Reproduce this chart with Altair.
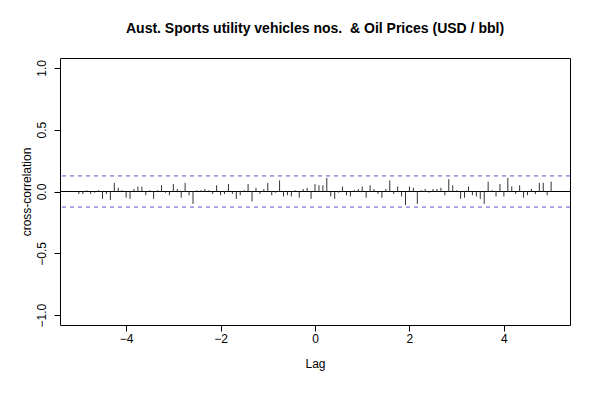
import altair as alt
import pandas as pd

lags = [round(-5 + i / 12, 4) for i in range(121)]
acf = [-0.02, -0.02, 0.01, -0.02, -0.01, 0.01, -0.06, -0.02, -0.07, 0.07, 0.03, 0.01,
       -0.05, -0.06, 0.02, 0.04, 0.04, -0.03, 0.01, -0.06, 0.01, 0.05, -0.01, -0.03,
       0.06, 0.02, -0.05, 0.07, -0.03, -0.10, 0.01, 0.01, 0.02, 0.01, -0.02, 0.05,
       -0.03, -0.02, 0.06, -0.02, -0.06, -0.03, 0.01, 0.06, -0.08, 0.03, -0.02, 0.02,
       0.07, -0.03, -0.01, 0.09, -0.04, -0.03, -0.04, 0.01, -0.05, 0.02, 0.03, -0.06,
       0.06, 0.05, 0.05, 0.11, -0.04, -0.06, -0.01, 0.04, -0.03, -0.04, 0.01, 0.02,
       0.04, -0.05, 0.05, 0.02, -0.02, -0.05, 0.02, 0.09, -0.02, 0.04, -0.04, -0.11,
       0.04, 0.03, -0.10, 0.01, 0.02, -0.01, 0.02, 0.02, 0.03, -0.03, 0.10, 0.05, 0.01,
       -0.06, -0.05, 0.04, -0.03, -0.04, -0.06, -0.10, 0.08, 0.01, -0.04, 0.06, -0.04,
       0.11, 0.04, -0.02, 0.05, -0.05, -0.03, 0.02, -0.02, 0.07, 0.07, -0.03, 0.08]
acf = acf[:121] + [0.0] * (121 - len(acf))
ci = 0.126

df = pd.DataFrame({"lag": lags, "acf": acf, "zero": [0.0] * 121})

xs = alt.Scale(domain=[-5.4, 5.4], nice=False, zero=False)
ys = alt.Scale(domain=[-1.08, 1.08], nice=False)

bars = alt.Chart(df).mark_rule(color="#333333", strokeWidth=1).encode(
    x=alt.X("lag:Q", scale=xs, title="Lag",
            axis=alt.Axis(values=[-4, -2, 0, 2, 4], grid=False, titlePadding=14)),
    y=alt.Y("acf:Q", scale=ys, title="cross-correlation",
            axis=alt.Axis(values=[-1, -0.5, 0, 0.5, 1], format=".1f", grid=False,
                          labelAngle=270, labelAlign="center", labelBaseline="bottom",
                          labelPadding=6, titlePadding=2)),
    y2="zero:Q",
)

hdf = pd.DataFrame({"y": [0.0], "c1": [ci], "c2": [-ci]})
zero = alt.Chart(hdf).mark_rule(color="black").encode(y=alt.Y("y:Q", scale=ys))
c1 = alt.Chart(hdf).mark_rule(color="#5555cc", strokeDash=[4, 4]).encode(y=alt.Y("c1:Q", scale=ys))
c2 = alt.Chart(hdf).mark_rule(color="#5555cc", strokeDash=[4, 4]).encode(y=alt.Y("c2:Q", scale=ys))

chart = alt.layer(zero, c1, c2, bars).properties(
    width=510, height=267,
    title=alt.TitleParams("Aust. Sports utility vehicles nos.\u00a0 & Oil Prices (USD / bbl)",
                          fontSize=14, fontWeight="bold", font="Liberation Sans", offset=22),
    autosize=alt.AutoSizeParams(type="none"),
    padding={"left": 52, "top": 50, "right": 22, "bottom": 67},
).configure_view(stroke="black", strokeWidth=1).configure_axis(
    labelFont="Liberation Sans", titleFont="Liberation Sans", labelFontSize=12,
    titleFontSize=12, titleFontWeight="normal", domain=False, tickColor="black",
    tickSize=6, labelColor="black", titleColor="black",
)

chart.save("out.html", embed_options={"renderer": "svg", "actions": False})
